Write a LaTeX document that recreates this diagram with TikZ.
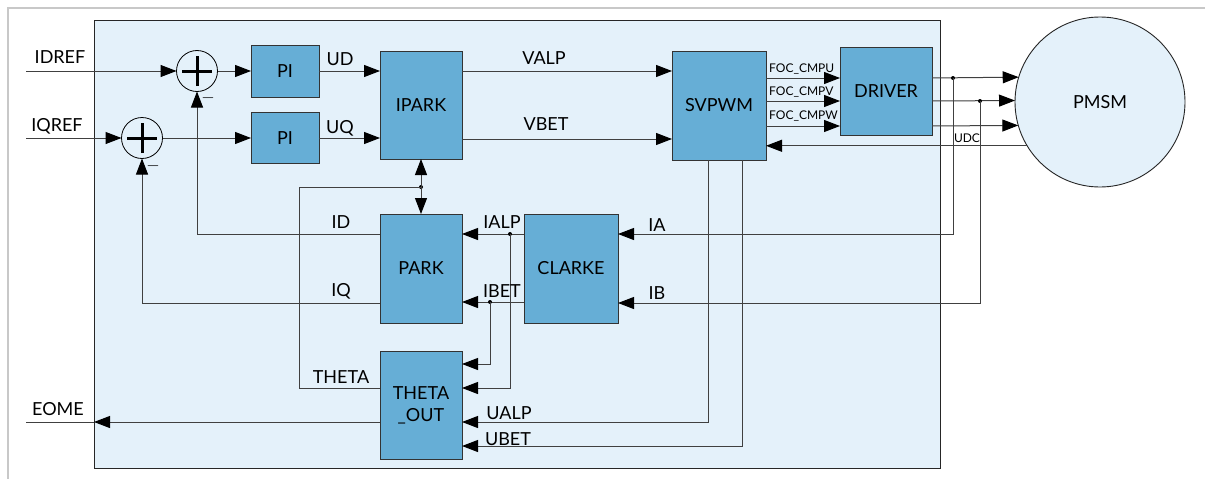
\documentclass[tikz,border=0pt]{standalone}
\usepackage{fontspec}
\setmainfont{Lato}
\usetikzlibrary{arrows.meta}
\definecolor{bgblue}{HTML}{E4F1FA}
\definecolor{blk}{HTML}{66AED6}
\definecolor{ln}{HTML}{404040}
\definecolor{frame}{HTML}{C8C8C8}
\begin{document}
\begin{tikzpicture}[x=1pt,y=-1pt,
  blockbox/.style={draw=black!80, line width=0.9pt, fill=blk, inner sep=0pt, outer sep=0pt, font=\fontsize{18}{22}\selectfont, align=center},
  sumnode/.style={circle, draw=black, line width=0.8pt, fill=bgblue, minimum size=41pt, inner sep=0pt, outer sep=0pt},
  conn/.style={draw=ln, line width=1pt},
  arr/.style={conn, -{Triangle[length=16pt,width=12pt,color=black]}},
  lbl/.style={font=\fontsize{18}{22}\selectfont, anchor=base, inner sep=0pt},
  small/.style={font=\fontsize{12}{14}\selectfont, anchor=base west, inner sep=0pt},
  minus/.style={font=\fontsize{16}{18}\selectfont, inner sep=0pt},
  dotmark/.style={circle, fill=black, inner sep=0pt, minimum size=4pt}
]
\useasboundingbox (0,0) rectangle (1205,479);
\fill[white] (0,0) rectangle (1205,479);
\draw[frame, line width=1.5pt] (8,479) -- (8,8) -- (1205,8);
\draw[draw=black!85, line width=1pt, fill=bgblue] (94,20) rectangle (940,468);

% blocks
\node[blockbox, minimum width=68pt, minimum height=52pt] (PI1) at (285,71) {PI};
\node[blockbox, minimum width=68pt, minimum height=51pt] (PI2) at (285,138) {PI};
\node[blockbox, minimum width=82pt, minimum height=108pt] (IPARK) at (421,105) {IPARK};
\node[blockbox, minimum width=94pt, minimum height=109pt] (SVPWM) at (719,105.5) {SVPWM};
\node[blockbox, minimum width=92pt, minimum height=88pt] (DRIVER) at (886,91) {DRIVER};
\node[blockbox, minimum width=82pt, minimum height=109pt] (PARK) at (421,268.5) {PARK};
\node[blockbox, minimum width=94pt, minimum height=109pt] (CLARKE) at (571,268.5) {CLARKE};
\node[blockbox, minimum width=82pt, minimum height=108pt] (thout) at (421,405) {THETA\\\_OUT};
\node[circle, draw=black!85, line width=0.9pt, fill=bgblue, minimum size=170pt, inner sep=0pt, outer sep=0pt, font=\fontsize{18}{22}\selectfont] (PMSM) at (1100,102) {PMSM};

% summing junctions
\node[sumnode] (sum1) at (197,71) {};
\node[sumnode] (sum2) at (142,138) {};
\draw[line width=3pt] ([xshift=-15pt]sum1.center) -- ([xshift=15pt]sum1.center);
\draw[line width=3pt] ([yshift=-15pt]sum1.center) -- ([yshift=15pt]sum1.center);
\draw[line width=3pt] ([xshift=-15pt]sum2.center) -- ([xshift=15pt]sum2.center);
\draw[line width=3pt] ([yshift=-15pt]sum2.center) -- ([yshift=15pt]sum2.center);
\node[minus] (m1) at (208,98) {$-$};
\node[minus] (m2) at (153,166) {$-$};

% inputs
\coordinate (idref) at (26,71);
\coordinate (iqref) at (26,138);
\draw[arr] (idref) -- (sum1.west);
\draw[arr] (iqref) -- (sum2.west);
\draw[arr] (sum1.east) -- (PI1.west);
\draw[arr] (sum2.east) -- (sum2.east -| PI2.west);
\draw[arr] (PI1.east) -- (PI1.east -| IPARK.west);
\draw[arr] (PI2.east) -- (PI2.east -| IPARK.west);
\draw[arr] (IPARK.east |- PI1.east) -- (SVPWM.west |- PI1.east);
\draw[arr] (IPARK.east |- 0,139) -- (SVPWM.west |- 0,139);

% SVPWM -> DRIVER
\foreach \yy in {78,101,126} {
  \draw[arr] (SVPWM.east |- 0,\yy) -- (DRIVER.west |- 0,\yy);
}
% DRIVER -> PMSM
\draw[arr] (DRIVER.east |- 0,78) -- (PMSM.163.6);
\draw[arr] (DRIVER.east |- 0,101) -- (PMSM.179.3);
\draw[arr] (DRIVER.east |- 0,126) -- (PMSM.196.4);
% UDC
\draw[arr] (PMSM.211.2) -- (SVPWM.east |- PMSM.211.2);

% current feedback
\node[dotmark] (ja) at (953,78) {};
\node[dotmark] (jb) at (980,101) {};
\draw[arr] (ja.center) |- (CLARKE.east |- 0,234);
\draw[arr] (jb.center) |- (CLARKE.east |- 0,303);

% CLARKE -> PARK
\draw[arr] (CLARKE.west |- 0,234) -- (PARK.east |- 0,234);
\draw[arr] (CLARKE.west |- 0,302) -- (PARK.east |- 0,302);
\node[dotmark] (jalp) at (510,234) {};
\node[dotmark] (jbet) at (490,302) {};
\draw[arr] (jalp.center) |- (thout.east |- 0,388);
\draw[arr] (jbet.center) |- (thout.east |- 0,364);

% SVPWM -> THETA_OUT
\draw[arr] (SVPWM.south -| 708,0) |- (thout.east |- 0,422);
\draw[arr] (SVPWM.south -| 742,0) |- (thout.east |- 0,446);

% EOME
\coordinate (eomeA) at (94,422);
\coordinate (eome) at (26,422);
\draw[arr] (thout.west |- 0,422) -- (eomeA);
\draw[conn] (eomeA) -- (eome);

% THETA
\node[dotmark] (jth) at (421,187) {};
\draw[conn] (thout.west |- 0,388) -| (299,187) -- (jth.center);
\draw[arr] (jth.center) -- (IPARK.south);
\draw[arr] (jth.center) -- (PARK.north);

% ID / IQ feedback
\draw[arr] (PARK.west |- 0,234) -| (sum1.south);
\draw[arr] (PARK.west |- 0,303) -| (sum2.south);

% labels
\node[lbl] (tIDREF) at (60,63) {IDREF};
\node[lbl] (tIQREF) at (57,131) {IQREF};
\node[lbl] (tUD) at (340,65) {UD};
\node[lbl] (tUQ) at (340,133) {UQ};
\node[lbl] (tVALP) at (544,64) {VALP};
\node[lbl] (tVBET) at (546,130) {VBET};
\node[small] (tFU) at (769,72) {FOC\_CMPU};
\node[small] (tFV) at (769,95) {FOC\_CMPV};
\node[small] (tFW) at (769,119) {FOC\_CMPW};
\node[small, anchor=base] (tUDC) at (967,142) {UDC};
\node[lbl] (tID) at (341,228) {ID};
\node[lbl] (tIQ) at (341,296) {IQ};
\node[lbl] (tTHETA) at (341,383) {THETA};
\node[lbl] (tEOME) at (58,415) {EOME};
\node[lbl] (tIALP) at (502,228) {IALP};
\node[lbl] (tIBET) at (502,297) {IBET};
\node[lbl] (tUALP) at (509,419) {UALP};
\node[lbl] (tUBET) at (508,445) {UBET};
\node[lbl] (tIA) at (657,231) {IA};
\node[lbl] (tIB) at (657,299) {IB};
\end{tikzpicture}
\end{document}
